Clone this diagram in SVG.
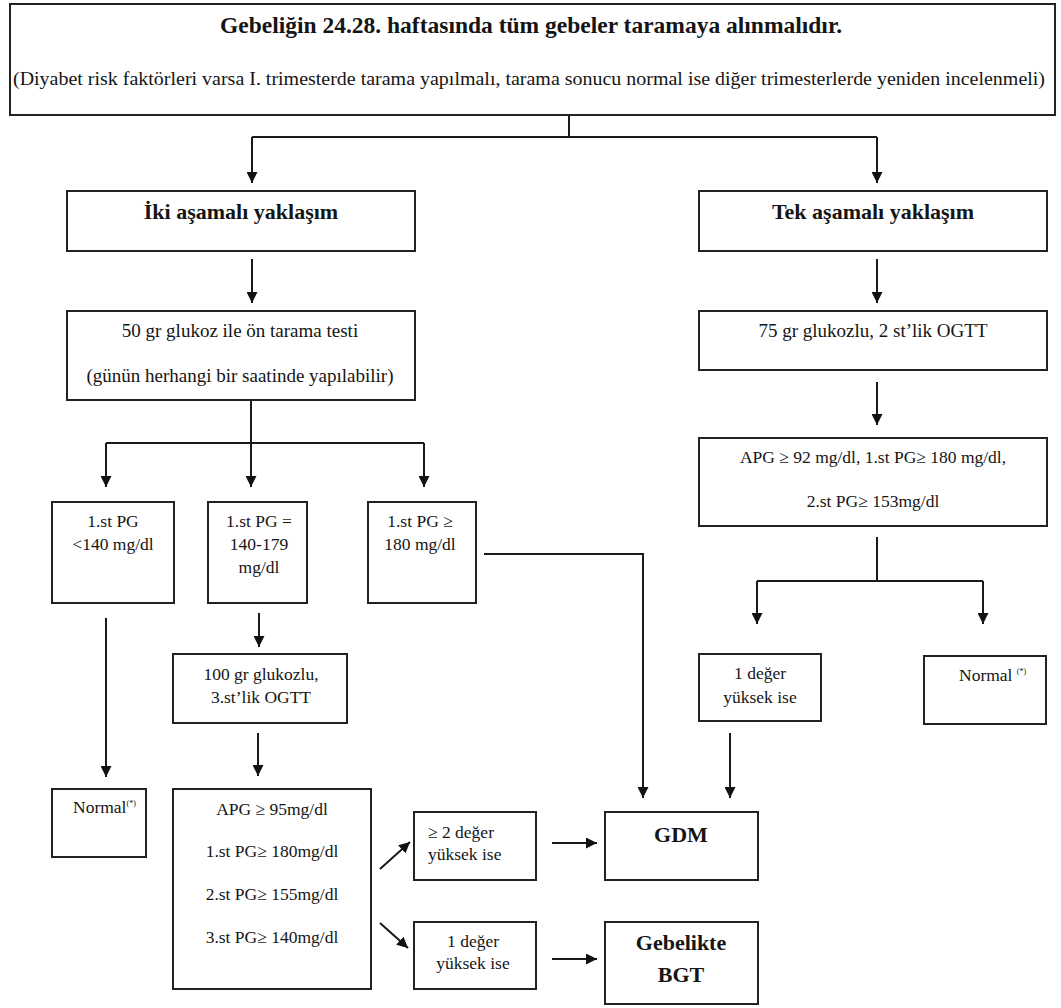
<svg xmlns="http://www.w3.org/2000/svg" width="1061" height="1008" viewBox="0 0 1061 1008">
<defs>
<marker id="ah" markerUnits="userSpaceOnUse" markerWidth="12" markerHeight="11" refX="11" refY="5.5" orient="auto">
<path d="M0,0 L11,5.5 L0,11 z" fill="#111"/>
</marker>
<style>
.box{fill:#fff;stroke:#222;stroke-width:2}
.ln{fill:none;stroke:#1a1a1a;stroke-width:2}
.ar{fill:none;stroke:#1a1a1a;stroke-width:2;marker-end:url(#ah)}
text{font-family:"Liberation Serif","Times New Roman",serif;fill:#151515}
.b{font-weight:bold}
.c{text-anchor:middle}
.t{font-size:17.5px}
.m{font-size:19px}
.h{font-size:22px;font-weight:bold}
.sup{font-size:8px}
</style>
</defs>
<rect width="1061" height="1008" fill="#fff"/>

<g id="connectors">
<path class="ln" d="M569,115 V137 M252,137 H877"/>
<path class="ar" d="M252,137 V183"/>
<path class="ar" d="M877,137 V183"/>
<path class="ar" d="M252,259 V303"/>
<path class="ar" d="M877,259 V303"/>
<path class="ln" d="M251,400 V443 M106,443 H424"/>
<path class="ar" d="M251,443 V487"/>
<path class="ar" d="M106,443 V487"/>
<path class="ar" d="M424,443 V487"/>
<path class="ar" d="M106,618 V777"/>
<path class="ar" d="M259,613 V647"/>
<path class="ar" d="M484,554 H643 V798"/>
<path class="ar" d="M258,733 V776"/>
<path class="ar" d="M380,869 L410,842"/>
<path class="ar" d="M380,923 L408,948"/>
<path class="ar" d="M552,843 H597"/>
<path class="ar" d="M552,959 H597"/>
<path class="ar" d="M877,382 V425"/>
<path class="ln" d="M877,537 V581 M757,581 H983"/>
<path class="ar" d="M757,581 V624"/>
<path class="ar" d="M983,581 V624"/>
<path class="ar" d="M730,733 V798"/>
</g>

<g id="n-top">
<rect class="box" x="10" y="4" width="1045" height="111"/>
<text class="b c" x="531" y="33" font-size="23.5">Gebeliğin 24.28. haftasında tüm gebeler taramaya alınmalıdır.</text>
<text x="13" y="85" font-size="18.5" textLength="1032" lengthAdjust="spacingAndGlyphs">(Diyabet risk faktörleri varsa I. trimesterde tarama yapılmalı, tarama sonucu normal ise diğer trimesterlerde yeniden incelenmeli)</text>
</g>

<g id="n-iki">
<rect class="box" x="67" y="191" width="348" height="60"/>
<text class="h c" x="241" y="219">İki aşamalı yaklaşım</text>
</g>

<g id="n-tek">
<rect class="box" x="699" y="191" width="348" height="60"/>
<text class="h c" x="873" y="219">Tek aşamalı yaklaşım</text>
</g>

<g id="n-50gr">
<rect class="box" x="67" y="311" width="348" height="89"/>
<text class="m c" x="240" y="337">50 gr glukoz ile ön tarama testi</text>
<text class="m c" x="240" y="382">(günün herhangi bir saatinde yapılabilir)</text>
</g>

<g id="n-75gr">
<rect class="box" x="699" y="311" width="348" height="59"/>
<text class="m c" x="873" y="337">75 gr glukozlu, 2 st’lik OGTT</text>
</g>

<g id="n-apg-tek">
<rect class="box" x="699" y="438" width="348" height="88"/>
<text class="t c" x="873" y="463">APG ≥ 92 mg/dl, 1.st PG≥ 180 mg/dl,</text>
<text class="t c" x="873" y="507">2.st PG≥ 153mg/dl</text>
</g>

<g id="n-pg1">
<rect class="box" x="52" y="502" width="122" height="101"/>
<text class="t c" x="113" y="527">1.st PG</text>
<text class="t c" x="113" y="550">&lt;140 mg/dl</text>
</g>

<g id="n-pg2">
<rect class="box" x="208" y="502" width="99" height="101"/>
<text class="t c" x="259" y="527">1.st PG =</text>
<text class="t c" x="259" y="550">140-179</text>
<text class="t c" x="259" y="573">mg/dl</text>
</g>

<g id="n-pg3">
<rect class="box" x="368" y="502" width="108" height="101"/>
<text class="t c" x="420" y="527">1.st PG ≥</text>
<text class="t c" x="420" y="550">180 mg/dl</text>
</g>

<g id="n-100gr">
<rect class="box" x="173" y="654" width="174" height="69"/>
<text class="t c" x="261" y="680">100 gr glukozlu,</text>
<text class="t c" x="261" y="703">3.st’lik OGTT</text>
</g>

<g id="n-normal-left">
<rect class="box" x="52" y="789" width="94" height="68"/>
<text class="t" x="73" y="813">Normal<tspan class="sup" dy="-7">(*)</tspan></text>
</g>

<g id="n-apg-iki">
<rect class="box" x="173" y="789" width="198" height="200"/>
<text class="t c" x="272" y="815">APG ≥ 95mg/dl</text>
<text class="t c" x="272" y="857">1.st PG≥ 180mg/dl</text>
<text class="t c" x="272" y="900">2.st PG≥ 155mg/dl</text>
<text class="t c" x="272" y="943">3.st PG≥ 140mg/dl</text>
</g>

<g id="n-2deger">
<rect class="box" x="414" y="812" width="122" height="68"/>
<text class="t" x="428" y="838">≥ 2 değer</text>
<text class="t" x="428" y="860">yüksek ise</text>
</g>

<g id="n-1deger-left">
<rect class="box" x="414" y="922" width="122" height="67"/>
<text class="t c" x="473" y="947">1 değer</text>
<text class="t c" x="473" y="969">yüksek ise</text>
</g>

<g id="n-gdm">
<rect class="box" x="605" y="812" width="153" height="68"/>
<text class="h c" x="681" y="842">GDM</text>
</g>

<g id="n-bgt">
<rect class="box" x="605" y="922" width="153" height="82"/>
<text class="h c" x="681" y="950">Gebelikte</text>
<text class="h c" x="681" y="982">BGT</text>
</g>

<g id="n-1deger-right">
<rect class="box" x="699" y="654" width="122" height="67"/>
<text class="t c" x="760" y="679">1 değer</text>
<text class="t c" x="760" y="703">yüksek ise</text>
</g>

<g id="n-normal-right">
<rect class="box" x="924" y="656" width="122" height="68"/>
<text class="t" x="959" y="681">Normal <tspan class="sup" dy="-7">(*)</tspan></text>
</g>
</svg>
